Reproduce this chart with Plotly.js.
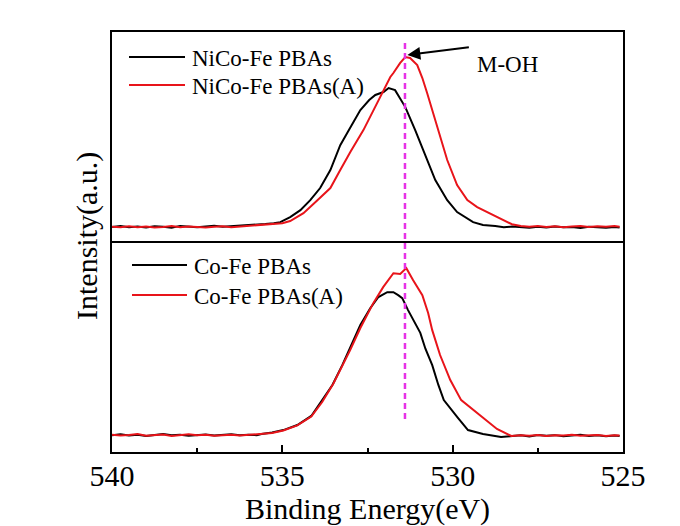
<!DOCTYPE html>
<html>
<head>
<meta charset="utf-8">
<script src="https://cdn.plot.ly/plotly-3.0.1.min.js"></script>
<style>html,body{margin:0;padding:0;background:#fff;}</style>
</head>
<body>
<div id="chart" style="width:680px;height:526px;"></div>
<script>
// ---- data (binding energy in eV, intensity in a.u.) ----
var niCoFeE = [540,539.75,539.5,539.25,539,538.75,538.5,538.25,538,537.75,537.5,537.25,537,536.75,536.5,536.25,536,535.75,535.5,535.25,
  535.06,534.77,534.47,534.18,533.89,533.59,533.3,533.05,532.71,532.45,532.27,532.03,531.88,531.69,531.54,531.39,531.1,530.81,530.51,530.16,529.87,529.4,529.11,
  528.75,528.5,528.25,528,527.75,527.5,527.25,527,526.75,526.5,526.25,526,525.75,525.5,525.25,525.1];
var niCoFeI = [6.8,7.2,6.6,7.0,6.5,7.1,6.9,6.4,7.3,6.8,6.6,7.0,7.4,6.9,7.1,7.3,7.6,7.9,8.2,8.6,
  9.1,11.5,14.8,19.6,25.4,34.0,45.9,53.0,62.7,67.5,69.9,71.3,73.2,72.2,68.4,64.1,53.1,41.1,29.2,19.6,13.9,9.1,7.7,
  7.2,6.6,7.0,6.7,6.4,6.9,6.5,7.0,6.6,6.8,6.3,6.9,6.6,6.4,6.8,6.5];

var niCoFeAE = [540,539.75,539.5,539.25,539,538.75,538.5,538.25,538,537.75,537.5,537.25,537,536.75,536.5,536.25,536,535.75,535.5,535.25,
  535.0,534.77,534.38,533.97,533.59,533.3,533.0,532.62,532.21,532.03,531.83,531.74,531.54,531.39,531.25,531.04,530.89,530.75,530.45,530.16,529.87,529.57,529.28,528.99,528.61,528.26,528.0,
  527.75,527.5,527.25,527,526.75,526.5,526.25,526,525.75,525.5,525.25,525.1];
var niCoFeAI = [6.9,6.6,7.1,6.7,7.0,6.5,6.8,7.2,6.6,7.0,6.8,6.5,6.9,7.1,6.7,7.0,7.2,7.4,7.7,8.0,
  8.6,9.6,13.4,19.6,25.4,34.0,42.8,53.1,66.0,72.2,78.5,80.4,85.2,88.0,87.6,84.2,78.0,70.8,54.5,38.8,26.8,19.6,16.3,13.9,11.0,8.1,7.3,
  6.9,7.2,6.8,7.1,6.7,7.0,7.3,6.8,7.1,6.9,7.2,6.9];

var coFeE = [540,539.75,539.5,539.25,539,538.75,538.5,538.25,538,537.75,537.5,537.25,537,536.75,536.5,536.25,536,535.75,
  535.61,535.3,534.97,534.56,534.15,533.83,533.53,533.24,532.95,532.71,532.42,532.18,531.92,531.74,531.6,531.48,531.31,531.1,530.95,530.8,530.6,530.42,530.26,529.84,529.55,529.11,528.58,528.25,528.0,
  527.75,527.5,527.25,527,526.75,526.5,526.25,526,525.75,525.5,525.25,525.1];
var coFeI = [8.0,8.4,7.8,8.2,7.6,8.1,8.5,7.9,8.2,7.7,8.0,8.3,7.8,8.1,8.4,7.9,8.2,8.0,
  8.5,9.2,10.4,12.8,17.1,24.6,31.8,41.2,51.7,60.2,68.2,73.5,75.8,75.8,74.4,73.0,67.3,61.1,56.5,49.0,41.2,31.8,24.6,16.1,10.4,8.5,7.1,7.6,7.9,
  7.4,8.1,7.7,8.0,7.5,7.8,8.2,7.6,7.9,7.5,7.8,7.6];

var coFeAE = [540,539.75,539.5,539.25,539,538.75,538.5,538.25,538,537.75,537.5,537.25,537,536.75,536.5,536.25,536,535.75,
  535.61,535.3,534.97,534.56,534.15,533.83,533.5,533.3,533.01,532.71,532.33,532.04,531.74,531.54,531.36,531.16,530.89,530.72,530.6,530.37,530.07,529.75,529.11,528.7,528.28,528.0,
  527.75,527.5,527.25,527,526.75,526.5,526.25,526,525.75,525.5,525.25,525.1];
var coFeAI = [8.2,7.8,8.1,8.5,7.7,8.0,8.3,7.6,8.1,8.4,7.9,8.2,7.7,8.0,8.2,7.8,8.1,8.3,
  8.6,9.0,10.2,12.6,16.8,23.7,32.5,38.9,48.3,58.8,70.6,78.2,84.8,84.4,87.2,81.5,74.4,65.9,57.8,46.0,34.1,24.6,16.1,10.9,7.6,8.0,
  7.7,8.1,7.6,8.0,7.8,8.2,7.7,7.9,8.1,7.6,8.0,7.8];

var seriesNames = ['NiCo-Fe PBAs','NiCo-Fe PBAs(A)','Co-Fe PBAs','Co-Fe PBAs(A)'];
var mohEnergy = 531.4;

var BLACK = '#000000', RED = '#e8141a', MAG = '#e632e6';
var FONT = '"Liberation Serif", "Times New Roman", Times, serif';

function tr(x, y, color, yax, name) {
  return {x: x, y: y, type: 'scatter', mode: 'lines', name: name, xaxis: yax === 'y2' ? 'x2' : 'x', yaxis: yax,
          line: {color: color, width: 2}, hoverinfo: 'skip'};
}
var data = [
  tr(niCoFeE, niCoFeI, BLACK, 'y2', seriesNames[0]),
  tr(niCoFeAE, niCoFeAI, RED, 'y2', seriesNames[1]),
  tr(coFeE, coFeI, BLACK, 'y', seriesNames[2]),
  tr(coFeAE, coFeAI, RED, 'y', seriesNames[3])
];

var L = 112, PW = 511, BOT = 452, PH = 420;
function px(x) { return (x - L) / PW; }
function py(y) { return (BOT - y) / PH; }

function legLine(x0, x1, y, color) {
  return {type: 'line', xref: 'paper', yref: 'paper', x0: px(x0), x1: px(x1), y0: py(y), y1: py(y), line: {color: color, width: 2}};
}
function legText(x, y, t) {
  return {xref: 'paper', yref: 'paper', x: px(x), y: py(y), text: t, showarrow: false, xanchor: 'left', yanchor: 'middle',
          font: {family: FONT, size: 23, color: '#000'}};
}

var shapes = [
  legLine(129, 185, 57, BLACK), legLine(129, 185, 85, RED),
  legLine(132, 187, 265, BLACK), legLine(132, 187, 295, RED),
  {type: 'line', xref: 'x', yref: 'paper', x0: mohEnergy, x1: mohEnergy, y0: py(419), y1: py(43),
   line: {color: MAG, width: 2.5, dash: '6px,4px'}}
];

var annotations = [
  legText(190, 58, seriesNames[0]), legText(190, 86, seriesNames[1]),
  legText(192, 266, seriesNames[2]), legText(192, 296, seriesNames[3]),
  {xref: 'x', yref: 'y2', x: 531.33, y: 89, ax: 63, ay: -8, text: '', showarrow: true,
   arrowhead: 2, arrowsize: 1.3, arrowwidth: 2, arrowcolor: '#000'},
  {xref: 'paper', yref: 'paper', x: px(540), y: py(50), text: 'M-OH', showarrow: false,
   font: {family: FONT, size: 23, color: '#000'}},
  {xref: 'paper', yref: 'paper', x: px(87), y: py(236), text: 'Intensity(a.u.)', textangle: -90, showarrow: false,
   xanchor: 'center', yanchor: 'middle', font: {family: FONT, size: 30, color: '#000'}}
];

var axLine = {showline: true, linecolor: '#000', linewidth: 2, showgrid: false, zeroline: false};

var layout = {
  width: 680, height: 526,
  margin: {l: L, r: 680 - L - PW, t: 32, b: 526 - BOT, pad: 0},
  paper_bgcolor: '#fff', plot_bgcolor: '#fff',
  font: {family: FONT, color: '#000'},
  showlegend: false,
  xaxis: Object.assign({}, axLine, {
    anchor: 'y', range: [540, 525], tick0: 525, dtick: 5, ticks: 'inside', ticklen: 7, tickwidth: 2, tickcolor: '#000',
    mirror: false, tickfont: {family: FONT, size: 30, color: '#000'}, ticklabelstandoff: -4,
    minor: {dtick: 2.5, ticks: 'inside', ticklen: 4, tickwidth: 2, tickcolor: '#000', showgrid: false},
    title: {text: 'Binding Energy(eV)', font: {family: FONT, size: 30, color: '#000'}, standoff: 12}
  }),
  xaxis2: Object.assign({}, axLine, {
    anchor: 'y2', matches: 'x', range: [540, 525], mirror: true, ticks: '', showticklabels: false
  }),
  yaxis: Object.assign({}, axLine, {domain: [0, 0.502], range: [0, 100], mirror: true, ticks: '', showticklabels: false}),
  yaxis2: Object.assign({}, axLine, {domain: [0.502, 1], range: [0, 100], mirror: true, ticks: '', showticklabels: false}),
  shapes: shapes,
  annotations: annotations
};

Plotly.newPlot('chart', data, layout, {staticPlot: true, displayModeBar: false});
</script>
</body>
</html>
